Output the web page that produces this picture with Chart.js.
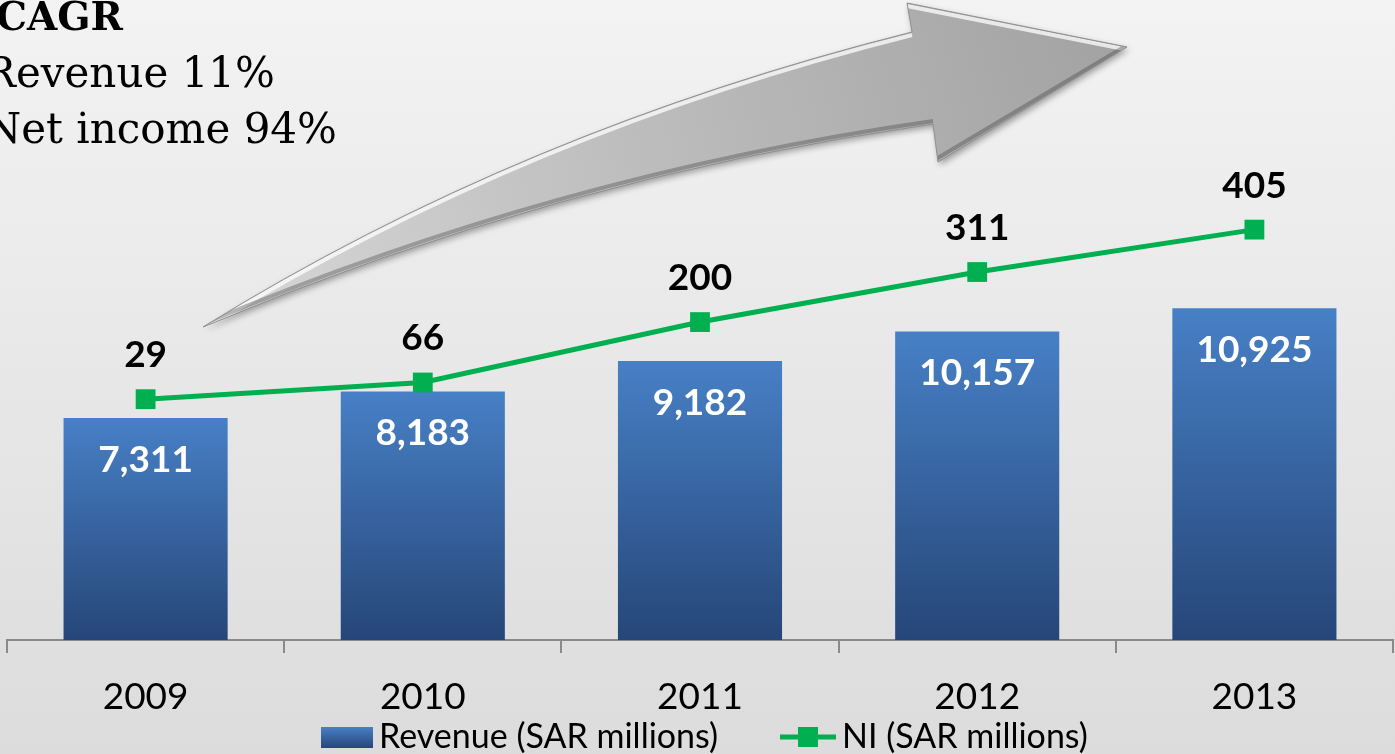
<!DOCTYPE html>
<html>
<head>
<meta charset="utf-8">
<script src="https://cdn.jsdelivr.net/npm/chart.js@4.4.1/dist/chart.umd.min.js"></script>
<style>
  html, body { margin: 0; padding: 0; overflow: hidden; }
  #wrap { width: 1395px; height: 754px; background: linear-gradient(#f3f3f3, #dcdcdc); }
</style>
</head>
<body>
<div id="wrap"><canvas id="chart" width="1395" height="754"></canvas></div>
<script>
// chart data
const years = ['2009', '2010', '2011', '2012', '2013'];
const revenue = [7311, 8183, 9182, 10157, 10925];
const netIncome = [29, 66, 200, 311, 405];
const revenueLabel = 'Revenue (SAR millions)';
const niLabel = 'NI (SAR millions)';
const cagrTitle = 'CAGR';
const cagrLines = ['Revenue 11%', 'Net income 94%'];

const GREEN = '#00b050';
const FONT = 'Lato, "Open Sans", sans-serif';

function blueGradient(ctx, top, bottom) {
    const g = ctx.createLinearGradient(0, top, 0, bottom);
    g.addColorStop(0, '#4780c6');
    g.addColorStop(1, '#264678');
    return g;
}

function barFill(context) {
    const chart = context.chart;
    if (!chart.chartArea || context.raw === undefined) return '#3a68a8';
    const top = chart.scales.y.getPixelForValue(context.raw);
    return blueGradient(chart.ctx, top, chart.chartArea.bottom);
}

function arrowPath(ctx) {
    ctx.beginPath();
    ctx.moveTo(203, 327);
    ctx.quadraticCurveTo(521, 130, 912, 32);
    ctx.lineTo(907, 3);
    ctx.lineTo(1127, 47);
    ctx.lineTo(938, 162);
    ctx.lineTo(933, 124);
    ctx.quadraticCurveTo(556, 178, 203, 327);
    ctx.closePath();
}

// Big grey arrow and the CAGR note, drawn behind the data
const backdrop = {
    id: 'backdrop',
    beforeDatasetsDraw(chart) {
        const ctx = chart.ctx;
        ctx.save();
        arrowPath(ctx);
        const g = ctx.createLinearGradient(203, 327, 1127, 47);
        g.addColorStop(0, '#d8d8d8');
        g.addColorStop(0.5, '#bcbcbc');
        g.addColorStop(1, '#a2a2a2');
        ctx.shadowColor = 'rgba(0,0,0,0.35)';
        ctx.shadowBlur = 6;
        ctx.shadowOffsetX = 2;
        ctx.shadowOffsetY = 3;
        ctx.fillStyle = g;
        ctx.fill();
        ctx.shadowColor = 'transparent';

        // bevel: light upper edge, darker lower edge
        ctx.save();
        arrowPath(ctx);
        ctx.clip();
        ctx.beginPath();
        ctx.moveTo(203, 330);
        ctx.quadraticCurveTo(521, 133, 912, 35);
        ctx.moveTo(907, 6);
        ctx.lineTo(1124, 49);
        ctx.strokeStyle = 'rgba(255,255,255,0.75)';
        ctx.lineWidth = 4;
        ctx.stroke();
        ctx.beginPath();
        ctx.moveTo(933, 121);
        ctx.quadraticCurveTo(556, 175, 203, 324);
        ctx.moveTo(1124, 47);
        ctx.lineTo(936, 159);
        ctx.strokeStyle = 'rgba(60,60,60,0.35)';
        ctx.lineWidth = 4;
        ctx.stroke();
        ctx.restore();

        arrowPath(ctx);
        ctx.strokeStyle = '#8e8e8e';
        ctx.lineWidth = 1;
        ctx.stroke();
        ctx.restore();

        ctx.save();
        ctx.fillStyle = '#000';
        ctx.textAlign = 'right';
        ctx.textBaseline = 'alphabetic';
        ctx.font = 'bold 39px "DejaVu Serif", serif';
        ctx.fillText(cagrTitle, 123, 30);
        ctx.font = '42px "DejaVu Serif", serif';
        ctx.fillText(cagrLines[0], 275, 87);
        ctx.fillText(cagrLines[1], 337, 143);
        ctx.restore();
    }
};

// Value labels on bars and above the line points
const valueLabels = {
    id: 'valueLabels',
    afterDatasetsDraw(chart) {
        const ctx = chart.ctx;
        ctx.save();
        ctx.textAlign = 'center';
        ctx.textBaseline = 'middle';
        ctx.font = 'bold 37px ' + FONT;
        chart.getDatasetMeta(1).data.forEach((bar, i) => {
            ctx.fillStyle = '#ffffff';
            ctx.fillText(revenue[i].toLocaleString('en-US'), bar.x, bar.y + 42);
        });
        chart.getDatasetMeta(0).data.forEach((pt, i) => {
            ctx.fillStyle = '#000000';
            ctx.fillText(netIncome[i].toLocaleString('en-US'), pt.x, pt.y - 44);
        });
        ctx.restore();
    }
};

// Legend along the bottom edge
const bottomLegend = {
    id: 'bottomLegend',
    afterDraw(chart) {
        const ctx = chart.ctx;
        ctx.save();
        ctx.font = '34px ' + FONT;
        ctx.textBaseline = 'alphabetic';
        ctx.textAlign = 'left';

        ctx.fillStyle = blueGradient(ctx, 727, 748);
        ctx.fillRect(321, 727, 52, 21);
        ctx.fillStyle = '#000';
        ctx.fillText(chart.data.datasets[1].label, 379, 748);

        ctx.strokeStyle = GREEN;
        ctx.lineWidth = 5;
        ctx.beginPath();
        ctx.moveTo(780, 737);
        ctx.lineTo(836, 737);
        ctx.stroke();
        ctx.fillStyle = GREEN;
        ctx.fillRect(798, 727, 20, 20);
        ctx.fillStyle = '#000';
        ctx.fillText(chart.data.datasets[0].label, 842, 748);
        ctx.restore();
    }
};

new Chart(document.getElementById('chart'), {
    data: {
        labels: years,
        datasets: [{
            type: 'line',
            label: niLabel,
            data: netIncome,
            yAxisID: 'y1',
            borderColor: GREEN,
            backgroundColor: GREEN,
            borderWidth: 5,
            pointStyle: 'rect',
            pointRadius: 14,
            pointBorderWidth: 0,
            pointBackgroundColor: GREEN,
            tension: 0,
            order: 0
        }, {
            type: 'bar',
            label: revenueLabel,
            data: revenue,
            yAxisID: 'y',
            backgroundColor: barFill,
            borderWidth: 0,
            categoryPercentage: 1,
            barPercentage: 0.592,
            order: 1
        }]
    },
    options: {
        responsive: false,
        animation: false,
        layout: {
            autoPadding: false,
            padding: { left: 7, right: 2, top: 10, bottom: 0 }
        },
        plugins: {
            legend: { display: false },
            tooltip: { enabled: false }
        },
        scales: {
            x: {
                afterFit: (axis) => { axis.height = 114; },
                grid: {
                    display: true,
                    drawOnChartArea: false,
                    drawTicks: true,
                    tickLength: 13,
                    color: '#8a8a8a',
                    lineWidth: 2
                },
                border: { display: true, color: '#8a8a8a', width: 2 },
                ticks: {
                    color: '#000',
                    padding: 22,
                    font: { family: FONT, size: 37 }
                }
            },
            y: {
                display: false,
                min: 0,
                max: 20740
            },
            y1: {
                display: false,
                min: -505,
                max: 892
            }
        }
    },
    plugins: [backdrop, valueLabels, bottomLegend]
});
</script>
</body>
</html>
